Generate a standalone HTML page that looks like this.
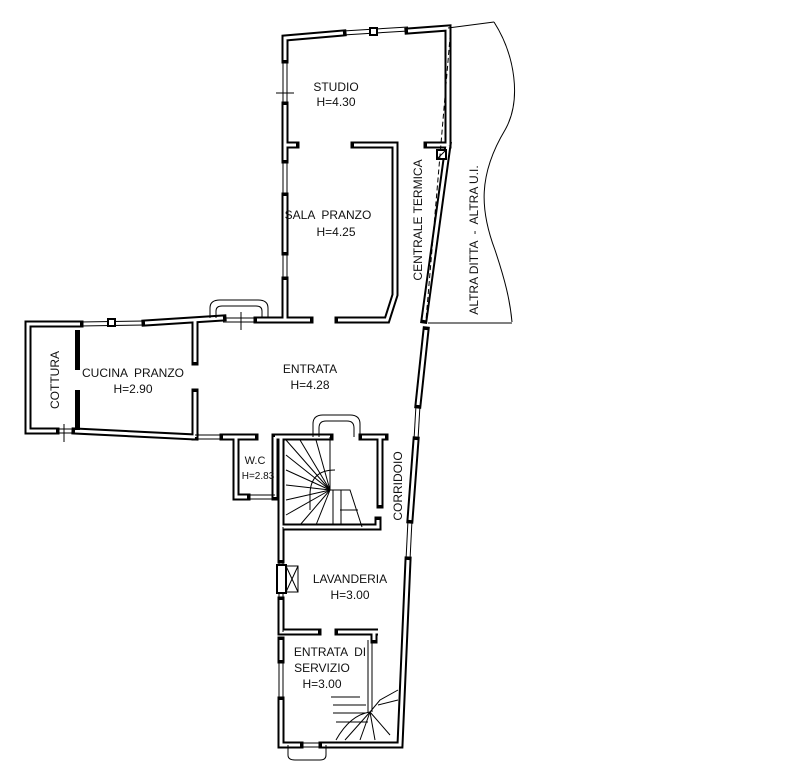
<!DOCTYPE html>
<html><head><meta charset="utf-8">
<style>
html,body{margin:0;padding:0;background:#fff}
svg{display:block}
text{font-family:"Liberation Sans",sans-serif;font-size:12px;fill:#111;text-anchor:middle;white-space:pre}
.wb{fill:none;stroke:#000;stroke-width:7;stroke-linejoin:miter;stroke-linecap:square}
.ww{fill:none;stroke:#fff;stroke-width:3;stroke-linejoin:miter;stroke-linecap:butt}
.ln{fill:none;stroke:#000;stroke-width:1}
.win{fill:none;stroke:#000;stroke-width:1}
</style></head><body>
<svg width="796" height="764" viewBox="0 0 796 764" xmlns="http://www.w3.org/2000/svg">
<defs>
<g id="walls">
 <polyline points="343,33 285,38 285,60"/>
 <polyline points="285,105 285,160"/>
 <polyline points="285,145 296,145"/>
 <polyline points="285,196 285,252"/>
 <polyline points="285,280 285,320 310,320"/>
 <polyline points="408,31 448,28 448,145"/>
 <polyline points="427,145 448,145"/>
 <polyline points="354,145 395,145 395,295 387,320 338,320"/>
 <polyline points="448,145 424,320"/>
 <polyline points="426,330 418,405"/>
 <polyline points="416,440 410,520"/>
 <polyline points="408,560 400,745 374,745"/>
 <polyline points="80,324 28,324 28,431 56,431"/>
 <polyline points="145,323 223,318"/>
 <polyline points="195,320 195,362"/>
 <polyline points="195,392 195,437"/>
 <polyline points="257,320 310,320"/>
 <polyline points="75,431 195,437"/>
 <polyline points="223,437 255,437"/>
 <polyline points="236,437 236,497 247,497"/>
 <polyline points="275,437 275,497"/>
 <polyline points="275,437 330,437"/>
 <polyline points="362,437 385,437"/>
 <polyline points="380,437 380,505"/>
 <polyline points="281,437 281,527 378,527 378,520"/>
 <polyline points="281,527 281,560"/>
 <polyline points="281,600 281,632 318,632"/>
 <polyline points="338,632 378,632 374,632 374,640"/>
 <polyline points="281,640 281,660"/>
 <polyline points="281,700 281,745 300,745"/>
 <polyline points="322,745 374,745"/>
</g>
</defs>
<g class="wb"><use href="#walls"/></g>
<g class="ww"><use href="#walls"/></g>

<g class="win">
 <line x1="343" y1="31" x2="408" y2="27"/><line x1="343" y1="35" x2="408" y2="31"/>
 <rect x="370" y="28" width="7" height="7" fill="#fff" stroke-width="2"/>
 <line x1="283" y1="60" x2="283" y2="105"/><line x1="287" y1="60" x2="287" y2="105"/>
 <line x1="276" y1="93" x2="294" y2="93"/>
 <line x1="283" y1="160" x2="283" y2="196"/><line x1="287" y1="160" x2="287" y2="196"/>
 <line x1="283" y1="252" x2="283" y2="280"/><line x1="287" y1="252" x2="287" y2="280"/>
 <line x1="80" y1="322" x2="145" y2="321"/><line x1="80" y1="326" x2="145" y2="325"/>
 <rect x="108" y="319" width="7" height="7" fill="#fff" stroke-width="2"/>
 <line x1="223" y1="318" x2="257" y2="318"/><line x1="223" y1="322" x2="257" y2="322"/>
 <line x1="241" y1="312" x2="241" y2="330"/>
 <path d="M210,318 L210,308 Q210,300 220,300 L258,300 Q268,300 268,308 L268,318" />
 <path d="M216,318 L216,311 Q216,306 222,306 L256,306 Q262,306 262,311 L262,318" />
 <line x1="56" y1="429" x2="75" y2="429"/><line x1="56" y1="433" x2="75" y2="433"/>
 <line x1="64" y1="424" x2="64" y2="442"/>
 <line x1="195" y1="435" x2="223" y2="435"/><line x1="195" y1="439" x2="223" y2="439"/>
 <line x1="247" y1="495" x2="275" y2="495"/><line x1="247" y1="499" x2="275" y2="499"/>
 <path d="M313,437 L313,424 Q313,415 323,415 L350,415 Q360,415 360,424 L360,437"/>
 <path d="M319,437 L319,428 Q319,421 326,421 L347,421 Q354,421 354,428 L354,437"/>
 <line x1="279" y1="527" x2="279" y2="632"/><line x1="283" y1="527" x2="283" y2="632"/>
 <line x1="279" y1="660" x2="279" y2="700"/><line x1="283" y1="660" x2="283" y2="700"/>
 <line x1="300" y1="743" x2="322" y2="743"/><line x1="300" y1="747" x2="322" y2="747"/>
 <path d="M288,745 L288,755 Q288,760 295,760 L320,760 Q326,760 326,755 L326,745"/>
 <line x1="416" y1="405" x2="414" y2="440"/><line x1="420" y1="405" x2="418" y2="440"/>
 <line x1="408" y1="520" x2="406" y2="560"/><line x1="412" y1="520" x2="410" y2="560"/>
 <line x1="368" y1="640" x2="368" y2="712"/><line x1="372" y1="640" x2="372" y2="712"/>
</g>
<rect x="75" y="330" width="5" height="40" fill="#000"/>
<rect x="75" y="390" width="5" height="40" fill="#000"/>
<rect x="277" y="565" width="9" height="28" fill="#fff" stroke="#000" stroke-width="2"/>
<rect x="286" y="566" width="12" height="26" fill="none" stroke="#000" stroke-width="1"/>
<line x1="286" y1="566" x2="298" y2="592" class="ln"/><line x1="298" y1="566" x2="286" y2="592" class="ln"/>
<rect x="437" y="150" width="9" height="9" fill="#fff" stroke="#000" stroke-width="2"/>
<line x1="437" y1="159" x2="446" y2="150" class="ln"/>
<g class="ln">
 <path d="M330,437 L330,490 L350,490 L362,527"/>
 <line x1="330" y1="490" x2="286" y2="440"/><line x1="330" y1="490" x2="300" y2="440"/>
 <line x1="330" y1="490" x2="316" y2="440"/><line x1="330" y1="490" x2="286" y2="455"/>
 <line x1="330" y1="490" x2="286" y2="470"/><line x1="330" y1="490" x2="286" y2="485"/>
 <line x1="330" y1="490" x2="286" y2="500"/><line x1="330" y1="490" x2="286" y2="515"/>
 <line x1="330" y1="490" x2="300" y2="525"/><line x1="330" y1="490" x2="316" y2="525"/>
 <line x1="333" y1="490" x2="333" y2="525"/><line x1="341" y1="490" x2="341" y2="525"/>
 <path d="M335,470 Q310,470 310,495 L310,510"/>
 <line x1="340" y1="510" x2="358" y2="510"/>
 <line x1="331" y1="697" x2="360" y2="697"/><line x1="333" y1="705" x2="366" y2="705"/>
 <line x1="333" y1="713" x2="366" y2="713"/><line x1="336" y1="722" x2="368" y2="722"/>
 <path d="M336,740 Q350,715 370,712 L380,700 L398,690"/>
 <line x1="370" y1="712" x2="345" y2="740"/><line x1="370" y1="712" x2="360" y2="740"/>
 <line x1="370" y1="712" x2="375" y2="740"/><line x1="370" y1="712" x2="390" y2="735"/>
 <line x1="378" y1="705" x2="398" y2="700"/>
</g>
<line x1="451" y1="26" x2="426" y2="320" stroke="#000" stroke-width="1" stroke-dasharray="5,3"/>
<line x1="448" y1="28" x2="494" y2="22" class="ln"/>
<path d="M494,22 C515,55 522,100 505,130 C478,175 480,210 495,250 C505,280 510,300 512,322" class="ln"/>
<line x1="428" y1="323" x2="512" y2="323" class="ln"/>

<text x="336" y="91">STUDIO</text>
<text x="336" y="106">H=4.30</text>
<text x="328" y="219">SALA  PRANZO</text>
<text x="336" y="236">H=4.25</text>
<text transform="translate(422,220) rotate(-90)">CENTRALE TERMICA</text>
<text transform="translate(478,240) rotate(-90)">ALTRA DITTA  -  ALTRA U.I.</text>
<text transform="translate(59,380) rotate(-90)">COTTURA</text>
<text x="133" y="377">CUCINA  PRANZO</text>
<text x="133" y="393">H=2.90</text>
<text x="310" y="373">ENTRATA</text>
<text x="310" y="389">H=4.28</text>
<text x="255" y="464" style="font-size:11px">W.C</text>
<text x="258" y="479" style="font-size:10px">H=2.83</text>
<text transform="translate(402,486) rotate(-90)">CORRIDOIO</text>
<text x="350" y="583">LAVANDERIA</text>
<text x="350" y="599">H=3.00</text>
<text x="330" y="656">ENTRATA  DI</text>
<text x="322" y="672">SERVIZIO</text>
<text x="322" y="688">H=3.00</text>
</svg>
</body></html>
